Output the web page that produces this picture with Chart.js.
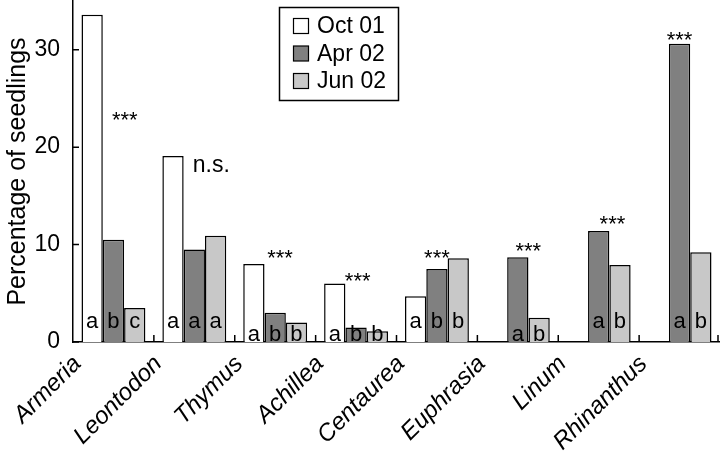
<!DOCTYPE html>
<html>
<head>
<meta charset="utf-8">
<script src="https://cdn.jsdelivr.net/npm/chart.js@4.4.0/dist/chart.umd.min.js"></script>
<style>
    html, body { margin: 0; padding: 0; background: #fff; }
    #wrap { width: 720px; height: 452px; }
</style>
</head>
<body>
<div id="wrap"><canvas id="seedlingChart"></canvas></div>
<script>
const species = ['Armeria', 'Leontodon', 'Thymus', 'Achillea', 'Centaurea', 'Euphrasia', 'Linum', 'Rhinanthus'];
const oct01 = [33.6, 19.1, 8.0, 6.0, 4.7, null, null, null];
const apr02 = [10.5, 9.5, 3.0, 1.5, 7.5, 8.7, 11.4, 30.6];
const jun02 = [3.5, 10.9, 2.0, 1.1, 8.6, 2.5, 7.9, 9.2];
const yTicks = [0, 10, 20, 30];

// letters of the post-hoc groups, one per bar
const octLetters = ['a', 'a', 'a', 'a', 'a', '', '', ''];
const aprLetters = ['b', 'a', 'b', 'b', 'b', 'a', 'a', 'a'];
const junLetters = ['c', 'a', 'b', 'b', 'b', 'b', 'b', 'b'];
const significance = ['***', 'n.s.', '***', '***', '***', '***', '***', '***'];

// where the significance marks sit (value units / category shift)
const sigLevel = [22.1, 17.4, 7.9, 5.5, 7.9, 8.6, 11.4, 30.3];
const sigShift = [0.14, 0.21, 0.06, 0.02, 0, 0.13, 0.17, 0];

const FONT = '"Liberation Sans", Arial, Helvetica, sans-serif';

const annotations = {
    id: 'annotations',
    afterDatasetsDraw(chart) {
        const ctx = chart.ctx;
        const x = chart.scales.x;
        const y = chart.scales.y;
        const zero = y.getPixelForValue(0);
        const letters = [octLetters, aprLetters, junLetters];

        ctx.save();
        ctx.fillStyle = '#000';
        ctx.textAlign = 'center';
        ctx.textBaseline = 'alphabetic';

        // letters inside bars
        ctx.font = '22px ' + FONT;
        species.forEach((s, i) => {
            const vals = [oct01[i], apr02[i], jun02[i]].filter(v => v !== null);
            const low = Math.min(...vals) < 3;
            letters.forEach((arr, d) => {
                if (!arr[i]) return;
                const bar = chart.getDatasetMeta(d).data[i];
                ctx.fillText(arr[i], bar.x, zero - (low ? 1 : 14));
            });
        });

        // significance
        significance.forEach((txt, i) => {
            ctx.font = (txt === 'n.s.' ? '23px ' : '22px ') + FONT;
            ctx.fillText(txt, x.getPixelForValue(i + sigShift[i]), y.getPixelForValue(sigLevel[i]));
        });

        // inward ticks
        ctx.strokeStyle = '#000';
        ctx.lineWidth = 1.5;
        ctx.beginPath();
        for (let i = 1; i <= species.length; i++) {
            const px = Math.min(x.getPixelForValue(i - 0.5), chart.width - 2);
            ctx.moveTo(px, zero);
            ctx.lineTo(px, zero - 7);
        }
        yTicks.forEach(v => {
            const py = y.getPixelForValue(v);
            ctx.moveTo(x.left, py);
            ctx.lineTo(x.left + 6, py);
        });
        ctx.stroke();

        // legend box
        ctx.lineWidth = 1.5;
        ctx.strokeRect(279.5, 7.5, 119, 93);
        ctx.textAlign = 'left';
        ctx.textBaseline = 'middle';
        ctx.font = '23px ' + FONT;
        chart.data.datasets.forEach((ds, d) => {
            const cy = 26 + d * 27.5;
            ctx.fillStyle = ds.backgroundColor;
            ctx.fillRect(293.5, cy - 7.5, 15, 15);
            ctx.lineWidth = 1.2;
            ctx.strokeRect(293.5, cy - 7.5, 15, 15);
            ctx.fillStyle = '#000';
            ctx.fillText(ds.label, 317, cy + 1);
        });
        ctx.restore();
    }
};

const barStyle = {
    borderColor: '#000',
    borderWidth: 1.5,
    barPercentage: 1,
    categoryPercentage: 0.79
};

new Chart(document.getElementById('seedlingChart'), {
    type: 'bar',
    data: {
        labels: species,
        datasets: [
            Object.assign({ label: 'Oct 01', data: oct01, backgroundColor: '#ffffff' }, barStyle),
            Object.assign({ label: 'Apr 02', data: apr02, backgroundColor: '#808080' }, barStyle),
            Object.assign({ label: 'Jun 02', data: jun02, backgroundColor: '#c8c8c8' }, barStyle)
        ]
    },
    options: {
        responsive: true,
        maintainAspectRatio: false,
        animation: false,
        layout: { padding: { top: 1, right: 0, left: 0, bottom: 0 } },
        plugins: {
            legend: { display: false },
            tooltip: { enabled: false }
        },
        scales: {
            x: {
                grid: { display: false, drawTicks: false },
                border: { display: true, color: '#000', width: 1.5 },
                ticks: {
                    autoSkip: false,
                    minRotation: 45,
                    maxRotation: 45,
                    labelOffset: -36,
                    padding: 8,
                    color: '#000',
                    font: { family: FONT, size: 24, style: 'italic' }
                },
                afterFit(scale) {
                    scale.height = 110;
                    scale.paddingLeft = 0;
                    scale.paddingRight = 0;
                }
            },
            y: {
                min: 0,
                max: 35,
                grid: { display: false, drawTicks: false },
                border: { display: true, color: '#000', width: 1.5 },
                afterBuildTicks(scale) { scale.ticks = yTicks.map(v => ({ value: v })); },
                ticks: {
                    padding: 13,
                    color: '#000',
                    font: { family: FONT, size: 23 }
                },
                title: {
                    display: true,
                    text: 'Percentage of seedlings',
                    color: '#000',
                    padding: { top: 3, bottom: 0 },
                    font: { family: FONT, size: 25 }
                },
                afterFit(scale) {
                    scale.width = 73;
                    scale.paddingTop = 0;
                    scale.paddingBottom = 0;
                }
            }
        }
    },
    plugins: [annotations]
});
</script>
</body>
</html>
